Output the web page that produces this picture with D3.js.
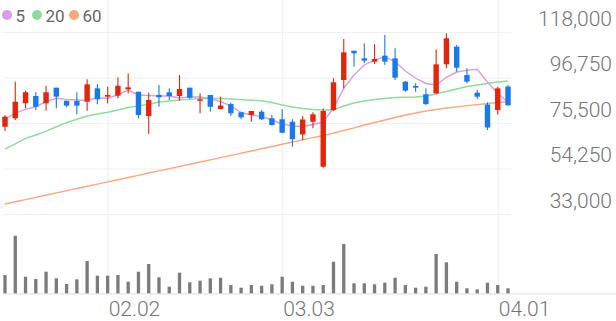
<!DOCTYPE html>
<html>
<head>
<meta charset="utf-8">
<script src="https://cdn.jsdelivr.net/npm/d3@7"></script>
<style>
  body { margin: 0; background: #fff; }
  svg { display: block; font-family: Roboto, sans-serif; }
  .grid line { stroke: #f0f0f0; stroke-width: 1.2; }
  .grid .domain { display: none; }
  .label { fill: #757575; font-size: 21px; font-weight: 300; }
  .legend text { fill: #666; font-size: 17px; }
</style>
</head>
<body>
<div class="chart"></div>
<script>
// Data
const dates = [
  "01.19","01.20","01.21","01.22","01.23","01.26","01.27","01.28","01.29","01.30",
  "02.02","02.03","02.04","02.05","02.06","02.09","02.10","02.11","02.12","02.13",
  "02.19","02.20","02.23","02.24","02.25","02.26","02.27",
  "03.03","03.04","03.05","03.06","03.09","03.10","03.11","03.12","03.13","03.16",
  "03.17","03.18","03.19","03.20","03.23","03.24","03.25","03.26","03.27","03.30","03.31",
  "04.01","04.02"
];
const open = [
  73750, 77700, 84700, 88100, 84700, 92000, 85900, 85750, 85450, 91700,
  87800, 88250, 91250, 90100, 78750, 88600, 89850, 88100, 92000, 85900,
  88600, 82050, 84350, 80500, 79250, 80800, 77700, 77250, 76100, 70150,
  76100, 55100, 81550, 95600, 109250, 105700, 104150, 106950, 105700, 94800,
  92800, 88900, 89350, 102900, 111150, 97900, 89650, 84150, 81550, 92550
];
const high = [
  79250, 94800, 90600, 89850, 92900, 92000, 85900, 89850, 95900, 93700,
  92450, 96850, 98700, 90100, 89650, 93250, 91700, 97900, 92000, 89350,
  88600, 87800, 85000, 80500, 81100, 81550, 79250, 81900, 77250, 78750,
  80500, 82350, 96400, 114750, 109250, 112700, 112250, 116600, 110400, 95100,
  94050, 91700, 109900, 117400, 111950, 101050, 90900, 85150, 92450, 93250
];
const low = [
  71750, 76900, 82350, 81550, 81250, 82350, 82850, 79550, 81250, 84250,
  84700, 87050, 89350, 77700, 70350, 83100, 86250, 85900, 86700, 80050,
  80800, 81900, 78750, 77350, 76100, 76900, 74250, 70700, 64450, 67550,
  73000, 54600, 81100, 91700, 101800, 103400, 103050, 102600, 95600, 90100,
  90100, 83900, 89050, 101050, 99450, 94050, 86700, 72250, 79550, 83600
];
const close = [
  78450, 85450, 89850, 83100, 89850, 87800, 83600, 83600, 93550, 86550,
  88600, 92900, 92150, 79250, 86250, 87500, 88100, 91400, 87300, 86550,
  83100, 83650, 80050, 78150, 81100, 77250, 74550, 70950, 67900, 77150,
  79550, 81100, 94500, 108500, 108050, 104600, 105400, 104150, 96650, 90600,
  92000, 84350, 102900, 115050, 101350, 94800, 87800, 73400, 91700, 83750
];
const volume = [
  183, 576, 166, 143, 216, 150, 93, 140, 323, 176,
  176, 183, 116, 216, 293, 160, 66, 206, 110, 126,
  150, 156, 83, 56, 83, 76, 90, 166, 116, 76,
  76, 83, 316, 493, 100, 100, 90, 106, 156, 83,
  56, 66, 393, 310, 116, 50, 40, 106, 83, 50
];
const ma5 = [
  77350, 80150, 81900, 83100, 85450, 87050, 86550, 86250, 86000, 87300,
  87050, 88600, 90900, 88600, 88350, 88100, 88100, 87200, 87650, 87650,
  86950, 85450, 83450, 80400, 79250, 78450, 76900, 75050, 74100, 73850,
  74800, 75950, 82500, 91700, 97900, 102600, 104900, 106450, 104200, 99800,
  96400, 93950, 93250, 96850, 99300, 100100, 100600, 94650, 89300, 85300
];
const ma20 = [
  63350, 65700, 68350, 69900, 71750, 73750, 75650, 77250, 78750, 79700,
  80500, 81550, 82750, 83450, 84250, 85300, 85750, 86250, 86550, 86950,
  87050, 86950, 86700, 86400, 86150, 85900, 85050, 83900, 82950, 82250,
  81800, 81550, 81550, 83450, 84850, 85750, 86450, 86950, 87400, 87500,
  87650, 88100, 89050, 90200, 91400, 92550, 93250, 93950, 94650, 95100
];
const ma60 = [
  37650, 38700, 39700, 40750, 41850, 42850, 43900, 44900, 45950, 46950,
  48000, 49000, 50050, 51050, 52150, 53150, 54200, 55250, 56250, 57300,
  58300, 59350, 60350, 61450, 62450, 63500, 64500, 65550, 66600, 67600,
  68650, 69650, 70750, 72000, 73250, 74550, 75750, 76900, 78050, 79250,
  80150, 81100, 81800, 82500, 83050, 83600, 84100, 84600, 85050, 85450
];
const yTicks = [118000, 96750, 75500, 54250, 33000];
const xTicks = ["02.02", "03.03", "04.01"];
const maSeries = [
  {name: "5", values: ma5, color: "#d99ce9"},
  {name: "20", values: ma20, color: "#8fdb9e"},
  {name: "60", values: ma60, color: "#f8a882"}
];

// Dimensions
const width = 616, height = 321;
const plotRight = 511, priceTop = 32, priceBottom = 214;
const volTop = 235.7, volBottom = 293.3;

// Scales
const xScale = d3.scalePoint()
    .domain(dates)
    .range([5, 508]);
const yScale = d3.scaleLinear()
    .domain([33000, 118000])
    .range([priceBottom, priceTop]);
const vScale = d3.scaleLinear()
    .domain([0, d3.max(volume)])
    .range([volBottom, volTop]);

const svg = d3.select(".chart").append("svg")
    .attr("width", width)
    .attr("height", height);

// Grid
const yAxis = svg.append("g")
    .attr("class", "grid y")
    .attr("transform", "translate(" + plotRight + ",0)")
    .call(d3.axisLeft(yScale).tickValues(yTicks).tickSize(plotRight - 3).tickFormat(""));
const xGrid = svg.append("g")
    .attr("class", "grid x")
    .attr("transform", "translate(0," + volBottom + ")")
    .call(d3.axisTop(xScale).tickValues(xTicks).tickSize(volBottom).tickFormat(""));

svg.append("line")
    .attr("x1", 3).attr("x2", width)
    .attr("y1", volBottom + 0.6).attr("y2", volBottom + 0.6)
    .attr("stroke", "#e3e3e3")
    .attr("stroke-width", 1.4);

// Tick labels
svg.append("g").selectAll("text")
    .data(yTicks)
  .enter().append("text")
    .attr("class", "label")
    .attr("x", 612)
    .attr("y", d => yScale(d) - 6.5)
    .attr("text-anchor", "end")
    .text(d3.format(","));
svg.append("g").selectAll("text")
    .data(xTicks)
  .enter().append("text")
    .attr("class", "label")
    .attr("x", d => xScale(d) + 1)
    .attr("y", 316)
    .text(d => d);

// Volume
svg.append("g").selectAll("rect")
    .data(volume)
  .enter().append("rect")
    .attr("x", (d, i) => xScale(dates[i]) - 1.65)
    .attr("width", 3.3)
    .attr("y", d => vScale(d))
    .attr("height", d => volBottom - vScale(d))
    .attr("fill", "#7b7b7b");

// Moving averages
const lineGenerator = d3.line()
    .x((d, i) => xScale(dates[i]))
    .y(d => yScale(d));
svg.append("g").selectAll("path")
    .data(maSeries.slice().reverse())
  .enter().append("path")
    .attr("d", d => lineGenerator(d.values))
    .attr("fill", "none")
    .attr("stroke", d => d.color)
    .attr("stroke-width", 1.4);

// Candles
const candles = svg.append("g").selectAll("g")
    .data(dates.map((d, i) => ({date: d, o: open[i], h: high[i], l: low[i], c: close[i]})))
  .enter().append("g")
    .attr("fill", d => d.c >= d.o ? "#e3260b" : "#1a78ea")
    .attr("stroke", "none");
candles.append("rect")
    .attr("x", d => xScale(d.date) - 0.55)
    .attr("width", 1.1)
    .attr("y", d => yScale(d.h))
    .attr("height", d => yScale(d.l) - yScale(d.h));
candles.append("rect")
    .attr("x", d => xScale(d.date) - 2.7)
    .attr("width", 5.4)
    .attr("y", d => yScale(Math.max(d.o, d.c)))
    .attr("height", d => Math.max(1.5, Math.abs(yScale(d.o) - yScale(d.c))));

// Legend
const legendX = [7, 37, 74];
const legend = svg.append("g")
    .attr("class", "legend")
    .selectAll("g")
    .data(maSeries)
  .enter().append("g")
    .attr("transform", (d, i) => "translate(" + legendX[i] + ",15)");
legend.append("circle")
    .attr("r", 5)
    .attr("fill", d => d.color);
legend.append("text")
    .attr("x", 8.5)
    .attr("y", 6.5)
    .text(d => d.name);
</script>
</body>
</html>
